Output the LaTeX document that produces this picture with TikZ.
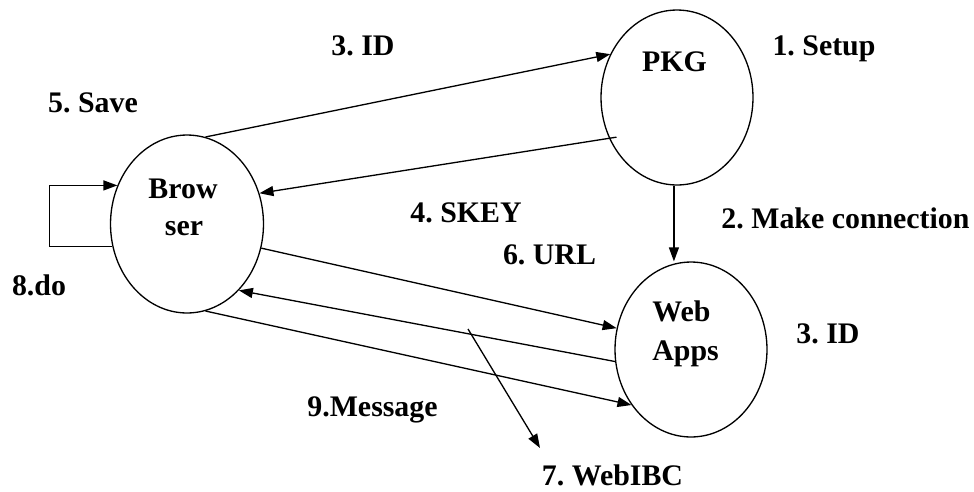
\documentclass[tikz,border=0pt]{standalone}
\usepackage{fontspec}
\setmainfont{Liberation Serif}
\usetikzlibrary{shapes.geometric,arrows.meta}
\frenchspacing
\begin{document}
\begin{tikzpicture}[x=0.02cm,y=-0.02cm,
  proc/.style={draw, ellipse, line width=0.75pt, minimum width=3.04cm, minimum height=3.5cm, inner sep=0},
  lbl/.style={font=\bfseries\fontsize{17}{22}\selectfont\frenchspacing, inner sep=0, anchor=base},
  flow/.style={line width=0.75pt, -{Triangle[length=0.28cm,width=0.2cm]}}]
\useasboundingbox (0,0) rectangle (974,491);
% processes
\node[proc, minimum width=3.06cm, minimum height=3.56cm] (browser) at (187,224) {};
\node[proc] (pkg) at (677,97.5) {};
\node[proc] (web) at (691,349.5) {};
% texts inside
\node[lbl] (tbrow) at (183,198) {Brow};
\node[lbl] (tser) at (184,235) {ser};
\node[lbl] (tpkg) at (674.5,71) {PKG};
\node[lbl, anchor=base west] (tweb) at (652,321) {Web};
\node[lbl, anchor=base west] (tapps) at (652,360) {Apps};
% labels
\node[lbl] (l1) at (824,55) {1. Setup};
\node[lbl] (l2) at (845.5,228) {2. Make connection};
\node[lbl] (l3b) at (828,343) {3. ID};
\node[lbl] (l3a) at (363,55) {3. ID};
\node[lbl] (l4) at (466,222) {4. SKEY};
\node[lbl] (l5) at (93,112) {5. Save};
\node[lbl] (l6) at (549.5,264) {6. URL};
\node[lbl] (l7) at (612.5,485) {7. WebIBC};
\node[lbl] (l8) at (39,295) {8.do};
\node[lbl] (l9) at (372.5,416) {9.Message};
% connectors
\draw[flow] (browser.78.4) -- (pkg.147.4);
\draw[flow, shorten <=-0.15cm] (pkg.211.1) -- (browser.23.6);
\draw[flow] (pkg.-92.5) -- (pkg.-92.5 |- web.north);
\draw[flow] (browser.-18.9) -- (web.164.6);
\draw[flow] (web.189.8) -- (browser.-52.7);
\draw[flow] (browser.-78.4) -- (web.223.7);
\draw[flow] (browser.197.5) -- ++(-63,0) |- (browser.151.8);
\coordinate (w7s) at (468,329);
\coordinate (w7e) at (540,448);
\draw[flow] (w7s) -- (w7e);
\end{tikzpicture}
\end{document}
